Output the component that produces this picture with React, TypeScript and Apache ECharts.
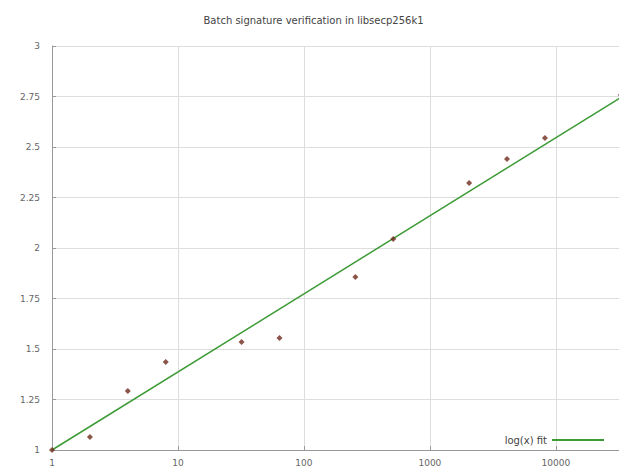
import React, { useEffect, useRef } from "react";
import * as echarts from "echarts";

const batchSizes = [1, 2, 4, 8, 32, 64, 256, 512, 2048, 4096, 8192, 32768];
const speedups = [1.0, 1.064, 1.292, 1.436, 1.535, 1.554, 1.856, 2.045, 2.322, 2.441, 2.545, 2.758];
const fitX = [1, 32768];
const fitY = [1.0, 2.745];
const yTicks = ["1", "1.25", "1.5", "1.75", "2", "2.25", "2.5", "2.75", "3"];

export default function App() {
  const ref = useRef<HTMLDivElement>(null);
  useEffect(() => {
    if (!ref.current) return;
    const chart = echarts.init(ref.current, undefined, { renderer: "svg" });
    const font = "DejaVu Sans";
    chart.setOption({
      animation: false,
      backgroundColor: "#ffffff",
      title: {
        text: "Batch signature verification in libsecp256k1",
        left: "center",
        top: 10,
        textStyle: { fontSize: 10, fontWeight: "normal", color: "#444", fontFamily: font },
      },
      legend: {
        right: 18,
        top: 430,
        align: "right",
        itemWidth: 52,
        itemHeight: 2,
        itemGap: 6,
        icon: "rect",
        data: [{ name: "log(x) fit", itemStyle: { color: "#3d9b35" } }],
        textStyle: { fontSize: 10, color: "#444", fontFamily: font },
      },
      grid: { left: 52, right: 6, top: 46, bottom: 24, containLabel: false },
      xAxis: {
        type: "log",
        logBase: 10,
        min: 1,
        max: 32900,
        axisLine: { show: true, lineStyle: { color: "#999" } },
        axisTick: { show: true, inside: true, length: 4, lineStyle: { color: "#999" } },
        minorTick: { show: false },
        axisLabel: {
          showMaxLabel: false,
          fontSize: 9,
          color: "#666",
          fontFamily: font,
          margin: 8,
          formatter: (v: number) => String(Math.round(v)),
        },
        splitLine: { show: true, lineStyle: { color: "#ddd" } },
      },
      yAxis: {
        type: "value",
        min: 1,
        max: 3,
        interval: 0.25,
        axisLine: { show: true, lineStyle: { color: "#999" } },
        axisTick: { show: true, inside: true, length: 4, lineStyle: { color: "#999" } },
        axisLabel: {
          fontSize: 9,
          color: "#666",
          fontFamily: font,
          margin: 12,
          formatter: (v: number) => {
            const i = Math.round((v - 1) / 0.25);
            return yTicks[i] ?? String(v);
          },
        },
        splitLine: { show: true, lineStyle: { color: "#ddd" } },
      },
      series: [
        {
          name: "log(x) fit",
          type: "line",
          data: fitX.map((x, i) => [x, fitY[i]]),
          symbol: "none",
          lineStyle: { color: "#3d9b35", width: 1.5 },
          itemStyle: { color: "#3d9b35" },
          z: 2,
        },
        {
          name: "measured",
          type: "scatter",
          data: batchSizes.map((x, i) => [x, speedups[i]]),
          symbol: "diamond",
          symbolSize: 6,
          clip: false,
          itemStyle: { color: "#6e2a1c" },
          z: 3,
        },
      ],
    });
    return () => chart.dispose();
  }, []);
  return <div ref={ref} style={{ width: 627, height: 474, margin: -8 }} />;
}
